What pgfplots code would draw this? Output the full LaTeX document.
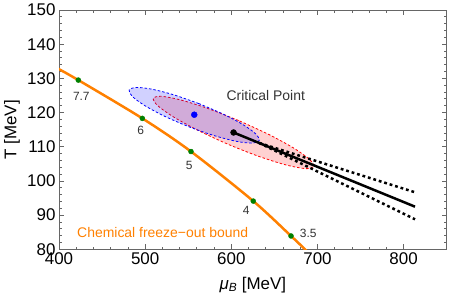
\documentclass[border=0pt]{standalone}
\usepackage{pgfplots}
\pgfplotsset{compat=1.18}
\usepackage{fontspec}
\setmainfont{Liberation Sans}
\definecolor{mmaorange}{rgb}{1,0.5,0}
\definecolor{mmagreen}{rgb}{0,0.5,0}
\definecolor{framegray}{gray}{0.4}
\definecolor{lbltxt}{gray}{0.2}
\begin{document}
\begin{tikzpicture}
\useasboundingbox (0,0) rectangle (449bp,300bp);
\begin{axis}[
  at={(59bp,50.7bp)}, anchor=south west,
  scale only axis, width=387.7bp, height=239.3bp,
  xmin=400, xmax=850, ymin=80, ymax=150,
  xtick={400,500,600,700,800}, ytick={80,90,100,110,120,130,140,150},
  minor x tick num=4, minor y tick num=4,
  tick align=inside,
  axis line style={framegray, line width=1bp},
  every tick/.style={framegray, line width=0.8bp},
  major tick length=5bp, minor tick length=2.8bp,
  tick label style={font=\fontsize{17}{20}\selectfont},
  /pgf/number format/assume math mode=true,
  label style={font=\fontsize{17}{20}\selectfont},
  xlabel={{\itshape μ}\textsubscript{\itshape B} [MeV]},
  ylabel={T [MeV]},
  xlabel style={at={(axis description cs:0.5,-0.149)}, anchor=center},
  ylabel style={at={(axis description cs:-0.121,0.5)}, anchor=center},
]
% red ellipse
\addplot[smooth, draw=red, dash pattern=on 2.5bp off 2bp, line width=0.8bp, fill=red, fill opacity=0.18] coordinates {
(608.5,117.67) (572.4,121.23) (541.0,123.71) (518.8,124.75) (509.5,124.17) (514.3,122.07) (532.6,118.77) (561.5,114.77) (596.7,110.67) (632.8,107.11) (664.2,104.63) (686.4,103.6) (695.7,104.17) (690.9,106.27) (672.6,109.58) (643.7,113.57) (608.5,117.67)};
% blue ellipse
\addplot[smooth, draw=blue, dash pattern=on 2.5bp off 2bp, line width=0.8bp, fill=blue, fill opacity=0.18] coordinates {
(562.2,122.64) (532.9,125.21) (507.3,126.86) (489.2,127.35) (481.4,126.59) (485.1,124.72) (499.8,122.0) (523.1,118.86) (551.6,115.77) (580.9,113.2) (606.6,111.55) (624.6,111.06) (632.4,111.81) (628.7,113.69) (614.0,116.4) (590.7,119.54) (562.2,122.64)};
% freeze-out curve
\addplot[smooth, mmaorange, line width=2.5bp] coordinates {
(398,133.0) (400,132.7) (422.4,129.5) (496.7,118.3) (553.2,108.6) (625.5,94.1) (669.3,83.9) (685.5,80.0) (692,78.4)};
\addplot[only marks, mark=*, mmagreen, mark size=2.5bp] coordinates {
(422.4,129.5) (496.7,118.3) (553.2,108.6) (625.5,94.1) (669.3,83.9)};
% critical line and band
\addplot[black, line width=2.5bp, dash pattern=on 2.8bp off 2.9bp] coordinates {(632.4,111.1) (813.2,96.68)};
\addplot[black, line width=2.5bp, dash pattern=on 2.8bp off 2.9bp] coordinates {(632.4,111.1) (813.2,88.78)};
\addplot[black, line width=2.5bp] coordinates {(602.6,114.17) (813.2,92.47)};
\addplot[only marks, mark=*, black, mark size=3bp] coordinates {(602.6,114.17)};
\addplot[only marks, mark=*, blue, mark size=3bp] coordinates {(557.0,119.37)};
% labels
\node[text=lbltxt, font=\fontsize{12}{14}\selectfont] at (axis cs:425.9,124.6) {7.7};
\node[text=lbltxt, font=\fontsize{12}{14}\selectfont] at (axis cs:494.8,114.8) {6};
\node[text=lbltxt, font=\fontsize{12}{14}\selectfont] at (axis cs:551.1,104.6) {5};
\node[text=lbltxt, font=\fontsize{12}{14}\selectfont] at (axis cs:617.3,91.3) {4};
\node[text=lbltxt, font=\fontsize{12}{14}\selectfont] at (axis cs:689.3,84.7) {3.5};
\node[text=lbltxt, font=\fontsize{14}{16}\selectfont, anchor=base, inner sep=0pt] at (axis cs:640,123.5) {Critical Point};
\node[text=mmaorange, font=\fontsize{14}{16}\selectfont, anchor=base west, inner sep=0pt] at (axis cs:420.9,83.5) {Chemical freeze−out bound};
\end{axis}
\end{tikzpicture}
\end{document}
